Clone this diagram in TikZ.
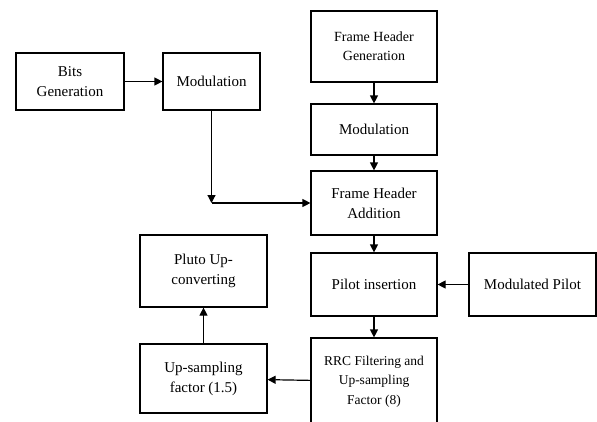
\documentclass[tikz,border=0pt]{standalone}
\usepackage{fontspec}
\setmainfont{Liberation Serif}
\usetikzlibrary{arrows.meta}
\tikzset{
  blk/.style={draw, line width=1.2pt, align=center, inner sep=0pt,
    font=\fontsize{15}{20}\selectfont},
  flow/.style={line width=1.2pt, -{Triangle[length=8pt,width=8pt]}}
}
\begin{document}
\begin{tikzpicture}[x=1pt,y=-1pt]
      \useasboundingbox (0,0) rectangle (597,421);
      \node[blk, minimum width=108, minimum height=57] (bits) at (70,81.5) {Bits\\Generation};
      \node[blk, minimum width=97, minimum height=57] (modl) at (211.5,81.5) {Modulation};
      \node[blk, minimum width=126, minimum height=71, font=\fontsize{14}{19}\selectfont] (fhgen) at (374,46.5) {Frame Header\\Generation};
      \node[blk, minimum width=126, minimum height=51] (modr) at (374,129.5) {Modulation};
      \node[blk, minimum width=126, minimum height=64] (fhadd) at (374,203) {Frame Header\\Addition};
      \node[blk, minimum width=126, minimum height=63] (pilot) at (374,284.5) {Pilot insertion};
      \node[blk, minimum width=127, minimum height=63] (modpil) at (532.5,284.5) {Modulated Pilot};
      \node[blk, minimum width=126, minimum height=87, font=\fontsize{13.5}{19.5}\selectfont] (rrc) at (374,381.5) {RRC Filtering and\\Up-sampling\\Factor (8)};
      \node[blk, minimum width=127, minimum height=72] (pluto) at (203.5,271) {Pluto Up-\\converting};
      \node[blk, minimum width=127, minimum height=69] (upsmp) at (203.5,378.5) {Up-sampling\\factor (1.5)};
      \coordinate (corner) at (modl.south |- fhadd.west);
      \draw[flow] (bits) -- (modl);
      \draw[flow] (modl) -- (corner);
      \draw[flow] (corner) -- (fhadd);
      \draw[flow] (fhgen) -- (modr);
      \draw[flow] (modr) -- (fhadd);
      \draw[flow] (fhadd) -- (pilot);
      \draw[flow] (modpil) -- (pilot);
      \draw[flow] (pilot) -- (rrc);
      \draw[flow] (rrc) -- (upsmp);
      \draw[flow] (upsmp) -- (pluto);
   \end{tikzpicture}
\end{document}
